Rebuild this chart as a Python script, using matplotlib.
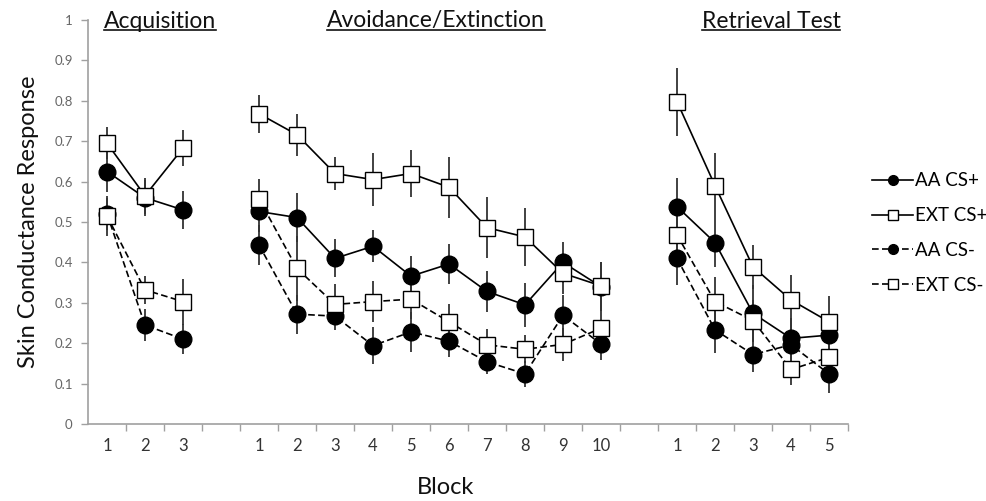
import matplotlib
matplotlib.use("Agg")
import matplotlib.pyplot as plt
from matplotlib.lines import Line2D

plt.rcParams["font.family"] = ["Lato", "DejaVu Sans"]

# category positions on one shared axis (gaps at 4 and 15, like the original sheet)
acq_x = [1, 2, 3]
ext_x = [5, 6, 7, 8, 9, 10, 11, 12, 13, 14]
ret_x = [16, 17, 18, 19, 20]
tick_labels = ["1", "2", "3", "", "1", "2", "3", "4", "5", "6", "7", "8", "9", "10",
               "", "1", "2", "3", "4", "5"]

# Acquisition
acq_aa_plus = [0.625, 0.56, 0.53]
acq_aa_plus_err = [0.05, 0.045, 0.047]
acq_ext_plus = [0.695, 0.565, 0.683]
acq_ext_plus_err = [0.04, 0.045, 0.045]
acq_aa_minus = [0.52, 0.245, 0.21]
acq_aa_minus_err = [0.04, 0.04, 0.037]
acq_ext_minus = [0.515, 0.332, 0.303]
acq_ext_minus_err = [0.05, 0.035, 0.057]

# Avoidance / Extinction
ext_aa_plus = [0.526, 0.511, 0.41, 0.44, 0.366, 0.396, 0.328, 0.295, 0.40, 0.34]
ext_aa_plus_err = [0.05, 0.06, 0.047, 0.04, 0.05, 0.05, 0.05, 0.054, 0.05, 0.06]
ext_ext_plus = [0.768, 0.716, 0.62, 0.605, 0.62, 0.586, 0.486, 0.463, 0.373, 0.342]
ext_ext_plus_err = [0.047, 0.052, 0.041, 0.066, 0.058, 0.076, 0.076, 0.072, 0.05, 0.06]
ext_aa_minus = [0.443, 0.272, 0.267, 0.194, 0.228, 0.205, 0.154, 0.124, 0.269, 0.198]
ext_aa_minus_err = [0.05, 0.048, 0.035, 0.045, 0.05, 0.04, 0.03, 0.033, 0.05, 0.04]
ext_ext_minus = [0.557, 0.385, 0.296, 0.303, 0.309, 0.253, 0.196, 0.185, 0.197, 0.237]
ext_ext_minus_err = [0.05, 0.08, 0.05, 0.05, 0.05, 0.045, 0.04, 0.035, 0.04, 0.045]

# Retrieval test
ret_aa_plus = [0.538, 0.449, 0.274, 0.212, 0.22]
ret_aa_plus_err = [0.07, 0.06, 0.07, 0.05, 0.04]
ret_ext_plus = [0.798, 0.59, 0.389, 0.307, 0.253]
ret_ext_plus_err = [0.084, 0.08, 0.054, 0.062, 0.063]
ret_aa_minus = [0.41, 0.233, 0.172, 0.196, 0.124]
ret_aa_minus_err = [0.066, 0.058, 0.043, 0.05, 0.048]
ret_ext_minus = [0.468, 0.303, 0.256, 0.135, 0.165]
ret_ext_minus_err = [0.05, 0.06, 0.05, 0.039, 0.04]

series_names = ["AA CS+", "EXT CS+", "AA CS-", "EXT CS-"]

AXIS_GREY = "#a0a0a0"
DASH = (0, (4, 2))
styles = {
    "AA CS+": dict(marker="o", ms=12, mfc="black", ls="-"),
    "EXT CS+": dict(marker="s", ms=11, mfc="white", ls="-"),
    "AA CS-": dict(marker="o", ms=12, mfc="black", ls=DASH),
    "EXT CS-": dict(marker="s", ms=11, mfc="white", ls=DASH),
}

phases = [
    (acq_x, {"AA CS+": (acq_aa_plus, acq_aa_plus_err),
             "EXT CS+": (acq_ext_plus, acq_ext_plus_err),
             "AA CS-": (acq_aa_minus, acq_aa_minus_err),
             "EXT CS-": (acq_ext_minus, acq_ext_minus_err)}),
    (ext_x, {"AA CS+": (ext_aa_plus, ext_aa_plus_err),
             "EXT CS+": (ext_ext_plus, ext_ext_plus_err),
             "AA CS-": (ext_aa_minus, ext_aa_minus_err),
             "EXT CS-": (ext_ext_minus, ext_ext_minus_err)}),
    (ret_x, {"AA CS+": (ret_aa_plus, ret_aa_plus_err),
             "EXT CS+": (ret_ext_plus, ret_ext_plus_err),
             "AA CS-": (ret_aa_minus, ret_aa_minus_err),
             "EXT CS-": (ret_ext_minus, ret_ext_minus_err)}),
]

fig = plt.figure(figsize=(9.87, 5.01), dpi=100, facecolor="white")
ax = fig.add_axes([88 / 987, 77 / 501, 760 / 987, 404 / 501])

for xs, data in phases:
    # error bars first so every marker sits on top of them
    for name in series_names:
        vals, errs = data[name]
        ax.errorbar(xs, vals, yerr=errs, fmt="none", ecolor="#333333",
                    elinewidth=1.3, capsize=0, zorder=2)
    for k, name in enumerate(series_names):
        vals, _ = data[name]
        st = styles[name]
        ax.plot(xs, vals, color="black", lw=1.2, ls=st["ls"], marker=st["marker"],
                ms=st["ms"], mfc=st["mfc"], mec="black", mew=1.0, zorder=3 + k)

ax.set_xlim(0.5, 20.5)
ax.set_ylim(0, 1)
ax.set_yticks([i / 10 for i in range(11)])
ax.set_yticklabels(["0"] + [f"0.{i}" for i in range(1, 10)] + ["1"])
ax.set_xticks(range(1, 21))
ax.set_xticklabels(tick_labels)
ax.set_xticks([i + 0.5 for i in range(1, 21)], minor=True)
ax.tick_params(axis="x", which="major", length=0, pad=10, labelsize=12, labelcolor="#333333")
ax.tick_params(axis="x", which="minor", length=5, color=AXIS_GREY, width=1.0, direction="out")
ax.tick_params(axis="y", length=5, color=AXIS_GREY, width=1.0, labelsize=9.5,
               labelcolor="#666666", pad=6)

for side in ("top", "right"):
    ax.spines[side].set_visible(False)
for side in ("left", "bottom"):
    ax.spines[side].set_color(AXIS_GREY)
    ax.spines[side].set_linewidth(1.2)

ax.set_ylabel("Skin Conductance Response", fontsize=17, color="#111111", labelpad=11)
fig.text(446 / 987, 1 - 488 / 501, "Block", fontsize=17, ha="center", va="center",
         color="#111111")

# phase titles, underlined
titles = [("Acquisition", 160), ("Avoidance/Extinction", 436), ("Retrieval Test", 771)]
title_objs = []
for label, cx in titles:
    t = fig.text(cx / 987, 1 - 21 / 501, label, fontsize=16.5, ha="center", va="center",
                 color="#111111")
    title_objs.append(t)

fig.canvas.draw()
renderer = fig.canvas.get_renderer()
for t in title_objs:
    bb = t.get_window_extent(renderer)
    y_line = bb.y0 + 2
    fig.add_artist(Line2D([bb.x0 / 987, bb.x1 / 987], [y_line / 501, y_line / 501],
                          transform=fig.transFigure, color="#111111", lw=1.2))

handles = []
for name in series_names:
    st = styles[name]
    handles.append(Line2D([], [], color="black", lw=1.2, ls=st["ls"], marker=st["marker"],
                          ms=7 if st["marker"] == "o" else 6.5, mfc=st["mfc"],
                          mec="black", mew=1.0))
fig.legend(handles, series_names, loc="center left",
           bbox_to_anchor=(872 / 987, 1 - 233 / 501), frameon=False, fontsize=13.5,
           handlelength=2.2, handletextpad=0.1, labelspacing=0.95, borderaxespad=0,
           borderpad=0)

fig.savefig("out.png", dpi=100, facecolor="white")
